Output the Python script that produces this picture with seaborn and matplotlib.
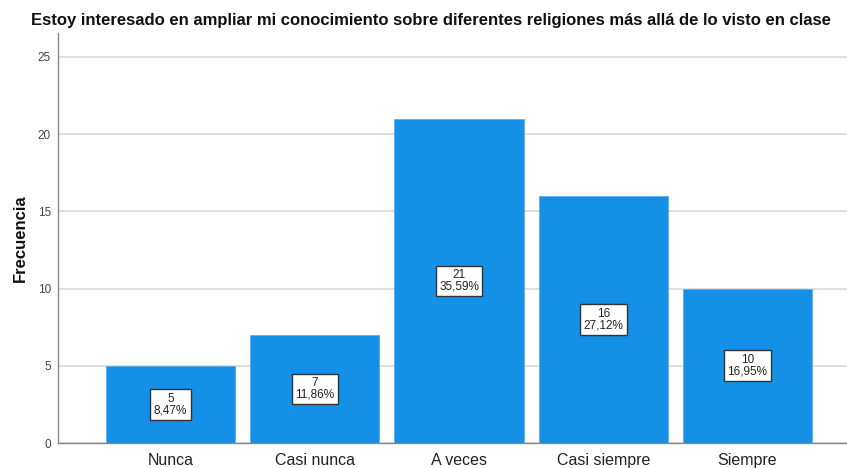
import matplotlib
matplotlib.use("Agg")
import matplotlib.pyplot as plt
import seaborn as sns
import pandas as pd

categories = ["Nunca", "Casi nunca", "A veces", "Casi siempre", "Siempre"]
counts = [5, 7, 21, 16, 10]
percents = ["8,47%", "11,86%", "35,59%", "27,12%", "16,95%"]
y_ticks = [0, 5, 10, 15, 20, 25]
title = "Estoy interesado en ampliar mi conocimiento sobre diferentes religiones más allá de lo visto en clase"

sns.set_theme(style="white")
plt.rcParams["font.family"] = ["Liberation Sans", "DejaVu Sans"]

df = pd.DataFrame({"cat": categories, "n": counts})

fig = plt.figure(figsize=(8.47, 4.68), dpi=100)
ax = fig.add_axes([58/847, 25/468, 1 - 58/847, (443-33)/468])

for t in y_ticks:
    ax.axhline(t, color="#dcdcdc", lw=1.3, zorder=0)

sns.barplot(data=df, x="cat", y="n", color="#1490E6", saturation=1, width=0.895,
            edgecolor="#5aaef0", linewidth=0.6, ax=ax, zorder=2)

for i, (c, p) in enumerate(zip(counts, percents)):
    ax.text(i, c / 2, f"{c}\n{p}", ha="center", va="center", fontsize=8.5,
            color="#222222", linespacing=0.95, zorder=4,
            bbox=dict(boxstyle="square,pad=0.3", fc="white", ec="#333333", lw=1.0))

ax.set_xlim(-0.78, 4.69)
ax.set_ylim(0, 26.55)
ax.set_yticks(y_ticks)
ax.set_yticklabels([str(t) for t in y_ticks], fontsize=8.5, color="#444444")
ax.tick_params(axis="x", labelsize=11.5, colors="#222222", length=0, pad=7)
ax.tick_params(axis="y", length=0, pad=5)
ax.set_xlabel("")
ax.set_ylabel("Frecuencia", fontsize=12, fontweight="bold", color="#111111", labelpad=7)

for s in ["top", "right"]:
    ax.spines[s].set_visible(False)
for s in ["left", "bottom"]:
    ax.spines[s].set_color("#888888")
    ax.spines[s].set_linewidth(1.0)

fig.text(431/847, 1 - 20/468, title, ha="center", va="center", fontsize=12,
         fontweight="bold", color="#111111")

fig.savefig("out.png", dpi=100, facecolor="white")
